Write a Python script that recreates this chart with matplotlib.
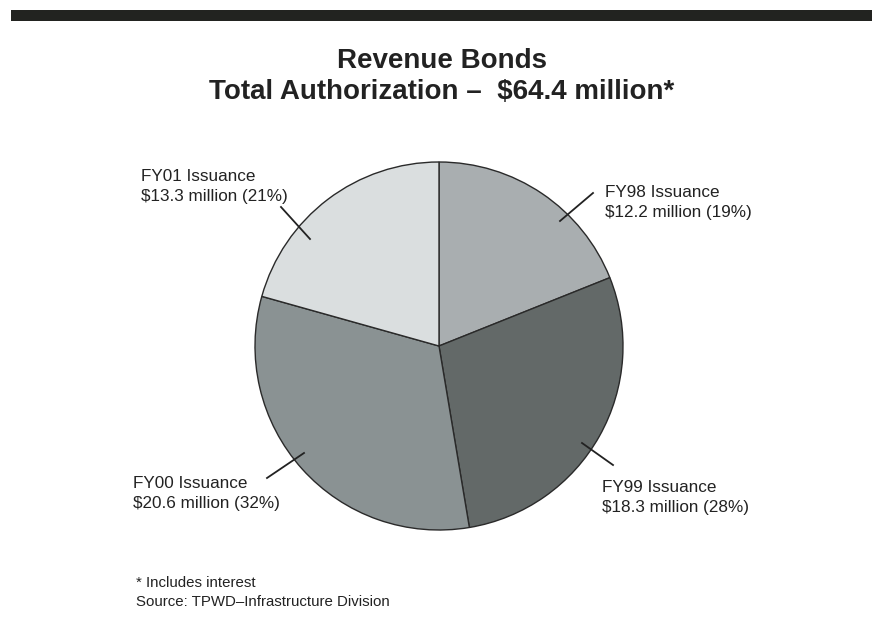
import matplotlib
matplotlib.use('Agg')
from matplotlib import pyplot as plt

plt.rcParams['font.family'] = ['Liberation Sans', 'DejaVu Sans']

# data
labels = ['FY98 Issuance', 'FY99 Issuance', 'FY00 Issuance', 'FY01 Issuance']
amounts = [12.2, 18.3, 20.6, 13.3]   # $ million
shares = [19, 28, 32, 21]            # percent as printed
colors = ['#a9aeb0', '#636968', '#8a9293', '#dadedf']

W, H = 872, 630
fig = plt.figure(figsize=(W / 100, H / 100), dpi=100)
ax = fig.add_axes([0, 0, 1, 1])

ink = '#222222'

# pie, drawn in pixel units (y flipped by hand)
cx, cy, r = 439, H - 346, 184
ax.pie(amounts, colors=colors, startangle=90, counterclock=False, center=(cx, cy),
       radius=r, frame=True, wedgeprops=dict(edgecolor='#2a2a2a', linewidth=1.0))
ax.set_xlim(0, W)
ax.set_ylim(0, H)
ax.set_aspect('equal')
ax.axis('off')

# top rule
ax.axhspan(H - 21, H - 10, xmin=11 / W, xmax=1, color='#222320', lw=0)

# title
ax.text(442, H - 68, 'Revenue Bonds', ha='center', va='baseline',
        fontsize=20, fontweight='bold', color=ink)
ax.text(442, H - 99, 'Total Authorization \u2013  $64.4 million*', ha='center',
        va='baseline', fontsize=20, fontweight='bold', color=ink)

# label anchors (left x, first baseline) and leader lines, in pixels
text_pos = [(605, 197), (602, 492), (133, 488), (141, 181)]
leaders = [((560, 221), (593, 193)), ((582, 443), (613, 465)),
           ((304, 453), (267, 478)), ((310, 239), (281, 207))]

for i in range(len(labels)):
    tx, ty = text_pos[i]
    ax.text(tx, H - ty, labels[i], ha='left', va='baseline', fontsize=12.3, color=ink)
    ax.text(tx, H - ty - 20, '$%.1f million (%d%%)' % (amounts[i], shares[i]),
            ha='left', va='baseline', fontsize=12.3, color=ink)
    (x0, y0), (x1, y1) = leaders[i]
    ax.plot([x0, x1], [H - y0, H - y1], color=ink, lw=1.3)

# footnote
ax.text(136, H - 587, '* Includes interest', ha='left', va='baseline',
        fontsize=10.8, color=ink)
ax.text(136, H - 606, 'Source: TPWD\u2013Infrastructure Division', ha='left',
        va='baseline', fontsize=10.8, color=ink)

fig.savefig('out.png', dpi=100, facecolor='white')
